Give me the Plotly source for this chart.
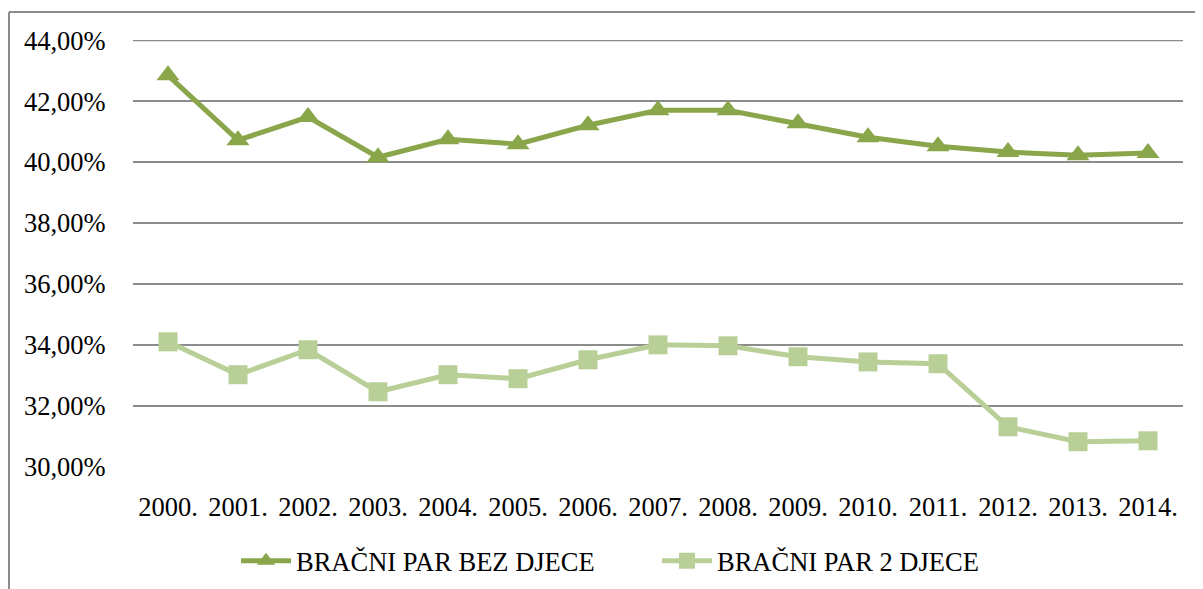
import plotly.graph_objects as go

years = ["2000.", "2001.", "2002.", "2003.", "2004.", "2005.", "2006.", "2007.",
         "2008.", "2009.", "2010.", "2011.", "2012.", "2013.", "2014."]
bez_djece = [42.85, 40.72, 41.48, 40.16, 40.75, 40.59, 41.21, 41.70,
             41.70, 41.28, 40.82, 40.52, 40.33, 40.23, 40.30]
dvoje_djece = [34.10, 33.02, 33.84, 32.46, 33.02, 32.89, 33.51, 34.00,
               33.97, 33.61, 33.44, 33.38, 31.31, 30.82, 30.85]
y_ticks = [30, 32, 34, 36, 38, 40, 42, 44]
y_labels = ["30,00%", "32,00%", "34,00%", "36,00%", "38,00%", "40,00%", "42,00%", "44,00%"]

c1 = "#89A64A"
c2 = "#B8D098"
grid = "#8c8c8c"
font = "Liberation Serif, Times New Roman, serif"
fs = 26.5

fig = go.Figure()
fig.add_trace(go.Scatter(x=years, y=bez_djece, name="BRAČNI PAR BEZ DJECE",
                         mode="lines+markers",
                         line=dict(color=c1, width=5),
                         marker=dict(symbol="triangle-up", size=20, color=c1)))
fig.add_trace(go.Scatter(x=years, y=dvoje_djece, name="BRAČNI PAR 2 DJECE",
                         mode="lines+markers",
                         line=dict(color=c2, width=5),
                         marker=dict(symbol="square", size=19, color=c2)))

# page has an 8px body margin: figure origin at page (8, 8)
OFF = 8
W, H = 1195, 581
L, R, T, B = 133 - OFF, 20, 40 - OFF, 122
pw = W - L - R
ph = H - T - B

def px_x(page_x):
    return (page_x - OFF - L) / pw

def px_y(page_y):
    return 1 - (page_y - OFF - T) / ph

fig.update_layout(
    width=W, height=H,
    margin=dict(l=L, r=R, t=T, b=B, autoexpand=False),
    plot_bgcolor="white", paper_bgcolor="white",
    font=dict(family=font, size=fs, color="black"),
    xaxis=dict(type="category", showgrid=False, zeroline=False, showline=False,
               ticks="outside", ticklen=16, tickcolor="rgba(0,0,0,0)",
               tickfont=dict(family=font, size=fs), range=[-0.5, 14.5],
               automargin=False),
    yaxis=dict(range=[29.99, 44.01], tickvals=y_ticks, ticktext=y_labels,
               showgrid=True, gridcolor=grid, gridwidth=2,
               zeroline=False, showline=False,
               ticks="outside", ticklen=21, tickcolor="rgba(0,0,0,0)",
               tickfont=dict(family=font, size=fs), automargin=False),
    legend=dict(orientation="h", x=px_x(236), xanchor="left",
                y=px_y(561), yanchor="middle",
                font=dict(family=font, size=fs),
                entrywidth=356, entrywidthmode="pixels",
                itemwidth=50, bgcolor="rgba(0,0,0,0)"),
    showlegend=True,
)

# top gridline (at the edge of the range, not drawn by the axis itself)
fig.add_shape(type="line", xref="paper", yref="y", layer="below",
              x0=0, x1=1, y0=y_ticks[-1], y1=y_ticks[-1],
              line=dict(color=grid, width=2))

# outer chart border (left and top edges visible)
fig.add_shape(type="line", xref="paper", yref="paper",
              x0=px_x(9), x1=px_x(1210), y0=px_y(12), y1=px_y(12),
              line=dict(color=grid, width=2))
fig.add_shape(type="line", xref="paper", yref="paper",
              x0=px_x(9), x1=px_x(9), y0=px_y(12), y1=px_y(600),
              line=dict(color=grid, width=2))

fig.write_html("out.html")
